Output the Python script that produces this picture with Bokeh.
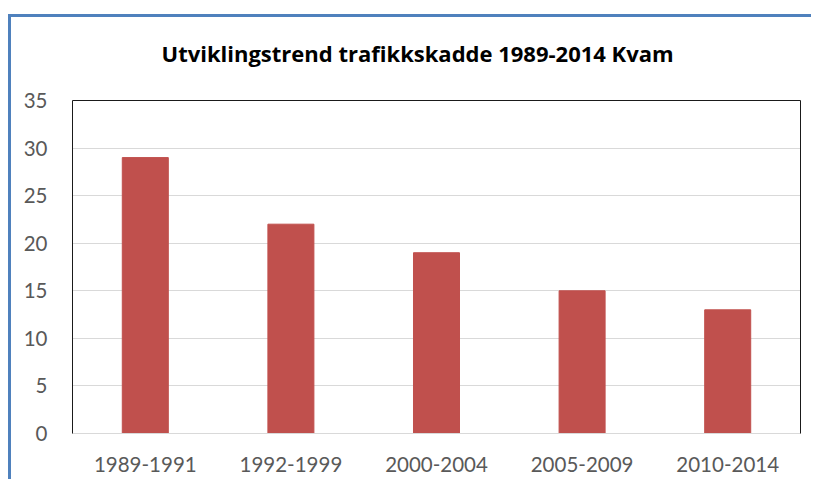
from bokeh.plotting import figure
from bokeh.models import LinearAxis, Range1d, FixedTicker
from bokeh.embed import file_html
from bokeh.resources import INLINE

categories = ["1989-1991", "1992-1999", "2000-2004", "2005-2009", "2010-2014"]
values = [29, 22, 19, 15, 13]
y_ticks = [0, 5, 10, 15, 20, 25, 30, 35]
title_text = "Utviklingstrend trafikkskadde 1989-2014 Kvam"

FONT = "Lato"
LABEL_COLOR = "#595959"
BLUE = "#4F81BD"

p = figure(
    x_range=categories,
    y_range=Range1d(0, 35),
    width=811, height=479,
    output_backend="svg", toolbar_location=None,
    min_border_left=72, min_border_right=11,
    min_border_top=100, min_border_bottom=46,
)
p.border_fill_color = None
p.background_fill_color = "white"
p.outline_line_color = None
p.styles = {
    "background": (
        f"linear-gradient({BLUE},{BLUE}) 8px 14px / 100% 3px no-repeat, "
        f"linear-gradient({BLUE},{BLUE}) 8px 14px / 3px 100% no-repeat"
    )
}

p.vbar(x=categories, top=values, width=0.316, fill_color="#C0504D", line_color="#C0504D")

p.title.text = title_text
p.title.text_font = "Open Sans"
p.title.text_font_style = "bold"
p.title.text_font_size = "22px"
p.title.text_color = "black"
p.title.align = "left"
p.title.offset = 89
p.title.standoff = 66

p.x_range.range_padding = 0
p.xgrid.grid_line_color = None
p.ygrid.grid_line_color = "#D9D9D9"
p.ygrid.ticker = FixedTicker(ticks=y_ticks)

xa = p.xaxis[0]
xa.axis_line_color = "#D9D9D9"
xa.major_tick_line_color = None
xa.minor_tick_line_color = None
xa.major_label_text_font = FONT
xa.major_label_text_font_size = "20.5px"
xa.major_label_text_color = LABEL_COLOR
xa.major_label_standoff = 17

ya = p.yaxis[0]
ya.ticker = FixedTicker(ticks=y_ticks)
ya.axis_line_color = "#1a1a1a"
ya.major_tick_line_color = None
ya.minor_tick_line_color = None
ya.major_label_text_font = FONT
ya.major_label_text_font_size = "20.5px"
ya.major_label_text_color = LABEL_COLOR
ya.major_label_standoff = 19

for loc in ("right", "above"):
    ax = LinearAxis(ticker=FixedTicker(ticks=[]), axis_line_color="#1a1a1a",
                    major_tick_line_color=None, minor_tick_line_color=None,
                    major_label_text_font_size="0px")
    p.add_layout(ax, loc)

open("out.html", "w").write(file_html(p, INLINE))
